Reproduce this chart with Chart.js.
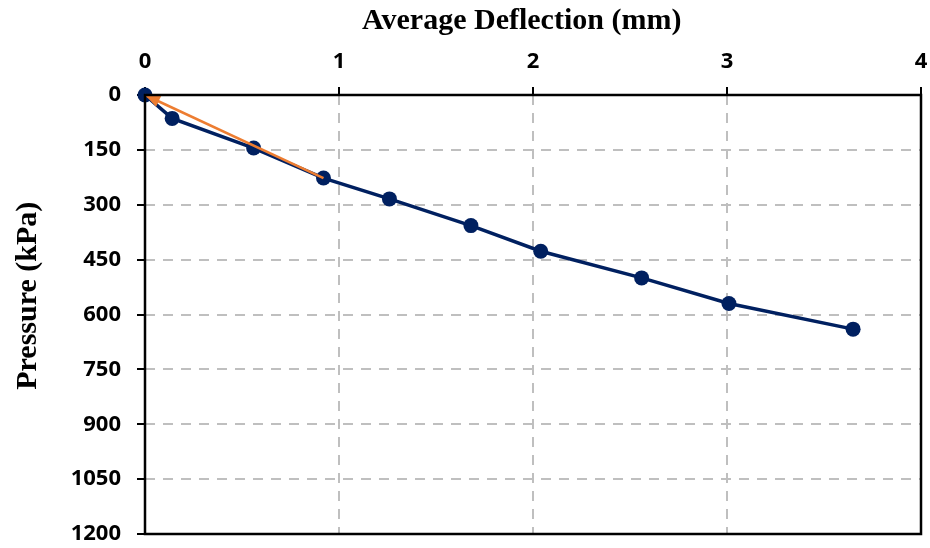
<!DOCTYPE html>
<html>
<head>
<meta charset="utf-8">
<script src="https://cdn.jsdelivr.net/npm/chart.js@4/dist/chart.umd.min.js"></script>
<style>
  body { margin: 0; background: #fff; }
</style>
</head>
<body>
<canvas id="deflection-chart" width="930" height="548"></canvas>
<script>
// plate load test: average deflection (mm) vs pressure (kPa)
var deflection = [0, 0.14, 0.56, 0.92, 1.26, 1.68, 2.04, 2.56, 3.01, 3.65];
var pressure = [0, 64, 145, 227, 284, 357, 427, 500, 570, 640];

// initial tangent, drawn back to the origin
var tangentX = [0.92, 0];
var tangentY = [227, 0];

var xTicks = [0, 1, 2, 3, 4];
var yTicks = [0, 150, 300, 450, 600, 750, 900, 1050, 1200];

function toPoints(xs, ys) {
    return xs.map(function(x, i) { return { x: x, y: ys[i] }; });
}

// black frame round the plot area
var frame = {
    id: 'frame',
    afterDraw: function(chart) {
        var a = chart.chartArea, ctx = chart.ctx;
        ctx.save();
        ctx.strokeStyle = '#000';
        ctx.lineWidth = 2.5;
        ctx.strokeRect(a.left, a.top, a.right - a.left, a.bottom - a.top);
        ctx.restore();
    }
};

// arrow head at the end of the tangent line
var arrowHead = {
    id: 'arrowHead',
    afterDatasetsDraw: function(chart) {
        var meta = chart.getDatasetMeta(0);
        var pts = meta.data;
        var tip = pts[pts.length - 1], from = pts[pts.length - 2];
        var ang = Math.atan2(tip.y - from.y, tip.x - from.x);
        var len = 15, half = 6;
        var ctx = chart.ctx;
        ctx.save();
        ctx.translate(tip.x, tip.y);
        ctx.rotate(ang);
        ctx.fillStyle = '#ED7D31';
        ctx.beginPath();
        ctx.moveTo(0, 0);
        ctx.lineTo(-len, -half);
        ctx.lineTo(-len, half);
        ctx.closePath();
        ctx.fill();
        ctx.restore();
    }
};

var tickFont = { family: '"Open Sans", "Noto Sans", sans-serif', size: 22, weight: 'bold' };
var titleFont = { family: '"Liberation Serif", serif', size: 30, weight: 'bold' };
var plain = function(v) { return String(v); };

new Chart(document.getElementById('deflection-chart'), {
    type: 'scatter',
    data: {
        datasets: [{
            data: toPoints(tangentX, tangentY),
            showLine: true,
            borderColor: '#ED7D31',
            borderWidth: 2.5,
            pointRadius: 0,
            clip: false,
            order: 0
        }, {
            data: toPoints(deflection, pressure),
            showLine: true,
            borderColor: '#002060',
            backgroundColor: '#002060',
            borderWidth: 3.5,
            pointRadius: 7.5,
            pointBorderWidth: 0,
            clip: false,
            order: 1
        }]
    },
    options: {
        responsive: false,
        animation: false,
        plugins: {
            legend: { display: false },
            tooltip: { enabled: false }
        },
        scales: {
            x: {
                type: 'linear',
                position: 'top',
                min: 0,
                max: 4,
                afterBuildTicks: function(s) { s.ticks = xTicks.map(function(v) { return { value: v }; }); },
                afterFit: function(s) { s.height = 95; s.paddingRight = 9; },
                title: {
                    display: true,
                    text: 'Average Deflection (mm)\u00a0\u00a0\u00a0',
                    color: '#000',
                    font: titleFont,
                    padding: { top: 3, bottom: 0 }
                },
                ticks: { color: '#000', font: tickFont, padding: 12, callback: plain },
                grid: {
                    color: '#bfbfbf',
                    lineWidth: 2,
                    tickColor: '#000',
                    tickWidth: 2,
                    tickLength: 8,
                    tickBorderDash: []
                },
                border: { display: false, dash: [10, 8] }
            },
            y: {
                type: 'linear',
                reverse: true,
                min: 0,
                max: 1200,
                afterBuildTicks: function(s) { s.ticks = yTicks.map(function(v) { return { value: v }; }); },
                afterFit: function(s) { s.width = 145; s.paddingBottom = 14; },
                title: {
                    display: true,
                    text: '\u00a0\u00a0\u00a0\u00a0\u00a0Pressure (kPa)',
                    color: '#000',
                    font: titleFont,
                    padding: { top: 10, bottom: 0 }
                },
                ticks: { color: '#000', font: tickFont, padding: 16, callback: plain },
                grid: {
                    color: '#bfbfbf',
                    lineWidth: 2,
                    tickColor: '#000',
                    tickWidth: 2,
                    tickLength: 8,
                    tickBorderDash: []
                },
                border: { display: false, dash: [10, 8] }
            }
        }
    },
    plugins: [frame, arrowHead]
});
</script>
</body>
</html>
